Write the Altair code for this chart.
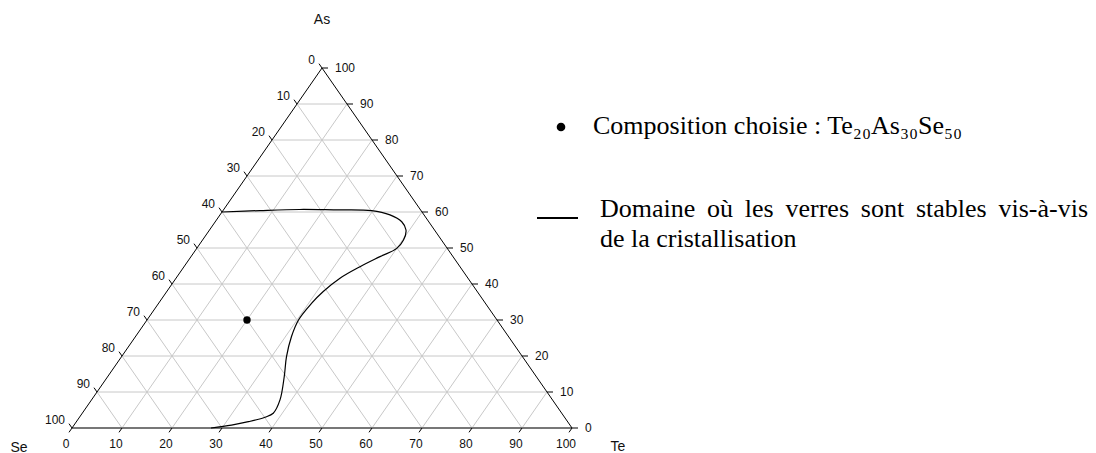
import altair as alt
import pandas as pd

# ---------------- data ----------------
grid_levels = [10, 20, 30, 40, 50, 60, 70, 80, 90]
tick_levels = [0, 10, 20, 30, 40, 50, 60, 70, 80, 90, 100]

# glass-stability domain boundary (Te %, As %)
curve_te = [0, 7.4, 15.2, 22.0, 29.7, 34.0, 37.3, 39.3, 40.2, 40.0, 37.8, 35.2,
            32.8, 31.3, 30.6, 30.3, 31.2, 33.0, 35.3, 37.7, 38.2, 37.1, 34.4, 31.5, 27.8]
curve_as = [60.0, 60.4, 60.7, 60.6, 60.4, 59.2, 57.3, 55.0, 52.2, 49.9, 47.6, 44.8,
            41.6, 37.9, 34.6, 30.0, 25.4, 19.8, 14.3, 7.8, 4.1, 3.0, 1.75, 0.8, 0.0]

chosen_te = [20]
chosen_as = [30]

vertex_names = ["As", "Se", "Te"]
legend_point_text = ["Composition choisie : Te\u2082\u2080As\u2083\u2080Se\u2085\u2080"]
legend_line_words = ["Domaine", "où", "les", "verres", "sont", "stables", "vis-à-vis"]
legend_line_text2 = ["de la cristallisation"]

TICK = 1.2
LEG_FONT = 26

# Times/Liberation Serif advance widths (em) for justified layout of legend line
_W = {"D": .722, "o": .5, "m": .778, "a": .444, "i": .278, "n": .5, "e": .444, "ù": .5,
      "l": .278, "s": .389, "v": .5, "r": .333, "t": .278, "b": .5, "-": .333, "à": .444}

# ---------------- tables ----------------
grid_rows = []
for k in grid_levels:
    grid_rows.append((0, k, 100 - k, k))          # constant As
    grid_rows.append((k, 0, k, 100 - k))          # constant Te
    grid_rows.append((100 - k, 0, 0, 100 - k))    # constant Se
grid_df = pd.DataFrame(grid_rows, columns=["te1", "ar1", "te2", "ar2"])

edge_lr = pd.DataFrame([(0, 0, 0, 100), (100, 0, 0, 100)], columns=["te1", "ar1", "te2", "ar2"])
edge_b = pd.DataFrame([(0, 0, 100, 0)], columns=["te1", "ar1", "te2", "ar2"])

tick_rows = []
for k in tick_levels:
    tick_rows.append((k, 0, k, -TICK))                              # bottom (Te)
    tick_rows.append((0, 100 - k, -TICK, 100 - k + TICK))           # left (Se)
    tick_rows.append((100 - k, k, 100 - k + TICK, k))               # right (As)
tick_df = pd.DataFrame(tick_rows, columns=["te1", "ar1", "te2", "ar2"])

bottom_lab = pd.DataFrame({"te": tick_levels, "ar": [0] * len(tick_levels), "lab": [str(k) for k in tick_levels]})
left_lab = pd.DataFrame({"te": [0] * len(tick_levels), "ar": [100 - k for k in tick_levels], "lab": [str(k) for k in tick_levels]})
right_lab = pd.DataFrame({"te": [100 - k for k in tick_levels], "ar": tick_levels, "lab": [str(k) for k in tick_levels]})

curve_df = pd.DataFrame({"i": list(range(len(curve_te))), "te": curve_te, "ar": curve_as})
point_df = pd.DataFrame({"te": chosen_te, "ar": chosen_as})

# ---------------- encodings ----------------
sx = alt.Scale(domain=[0, 100], nice=False, zero=False)
sy = alt.Scale(domain=[0, 100], nice=False, zero=False)


def segs(df, **mark):
    return alt.Chart(df).transform_calculate(
        x1="datum.te1 + datum.ar1 / 2", y1="datum.ar1",
        x2="datum.te2 + datum.ar2 / 2", y2="datum.ar2",
    ).mark_rule(**mark).encode(
        x=alt.X("x1:Q", scale=sx, axis=None),
        y=alt.Y("y1:Q", scale=sy, axis=None),
        x2="x2:Q", y2="y2:Q",
    )


def pts(df):
    return alt.Chart(df).transform_calculate(x="datum.te + datum.ar / 2", y="datum.ar")


def labels(df, **mark):
    return pts(df).mark_text(font="Liberation Sans", fontSize=12, color="#111", baseline="middle", **mark).encode(
        x=alt.X("x:Q", scale=sx, axis=None), y=alt.Y("y:Q", scale=sy, axis=None), text="lab:N")


grid = segs(grid_df, color="#c8c8c8", strokeWidth=1)
edges = segs(edge_lr, color="black", strokeWidth=1)
base_edge = segs(edge_b, color="#777777", strokeWidth=2)
ticks = segs(tick_df, color="black", strokeWidth=1)

lab_b = labels(bottom_lab, align="center", dx=-6, dy=16)
lab_l = labels(left_lab, align="right", dx=-7, dy=-8)
lab_r = labels(right_lab, align="left", dx=13, dy=0)

curve = pts(curve_df).mark_line(color="black", strokeWidth=1.2, interpolate="catmull-rom").encode(
    x=alt.X("x:Q", scale=sx, axis=None), y=alt.Y("y:Q", scale=sy, axis=None), order="i:Q")

point = pts(point_df).mark_point(filled=True, color="black", opacity=1, size=55).encode(
    x=alt.X("x:Q", scale=sx, axis=None), y=alt.Y("y:Q", scale=sy, axis=None))

vtx_te = [0, 0, 100]
vtx_as = [100, 0, 0]
vtx_off = [(0, -48), (-53, 20), (46, 19)]
vertex_layers = []
for name, te, ar, (ddx, ddy) in zip(vertex_names, vtx_te, vtx_as, vtx_off):
    vdf = pd.DataFrame({"te": [te], "ar": [ar], "lab": [name]})
    vertex_layers.append(
        pts(vdf).mark_text(font="Liberation Sans", fontSize=14, color="#111", align="center",
                           baseline="middle", dx=ddx, dy=ddy).encode(
            x=alt.X("x:Q", scale=sx, axis=None), y=alt.Y("y:Q", scale=sy, axis=None), text="lab:N"))

# ---------------- legend (drawn as text) ----------------
# positions relative to plot origin (page 72, 68)
LEG_X0 = 528        # left edge of legend text block
LEG_X1 = 1016       # right edge of justified first line

leg_pt = alt.Chart(pd.DataFrame({"t": ["pt"]})).mark_point(filled=True, color="black", opacity=1, size=75).encode(
    x=alt.value(489), y=alt.value(59))
leg_pt_txt = alt.Chart(pd.DataFrame({"t": legend_point_text})).mark_text(
    font="Liberation Serif", fontSize=LEG_FONT, align="left", baseline="alphabetic", color="black").encode(
    x=alt.value(521), y=alt.value(66), text="t:N")
leg_line = alt.Chart(pd.DataFrame({"t": ["ln"]})).mark_rule(color="black", strokeWidth=2).encode(
    x=alt.value(465), x2=alt.value(506), y=alt.value(150))

# justified first line: words spread between LEG_X0 and LEG_X1
word_w = [sum(_W.get(c, .5) for c in w) * LEG_FONT for w in legend_line_words]
gap = (LEG_X1 - LEG_X0 - sum(word_w)) / (len(legend_line_words) - 1)
word_x = []
cur = LEG_X0
for w in word_w:
    word_x.append(cur)
    cur += w + gap
words_df = pd.DataFrame({"w": legend_line_words, "px": word_x})
leg_line_txt1 = alt.Chart(words_df).mark_text(
    font="Liberation Serif", fontSize=LEG_FONT, align="left", baseline="alphabetic", color="black").encode(
    x=alt.X("px:Q", scale=None), y=alt.value(149), text="w:N")
leg_line_txt2 = alt.Chart(pd.DataFrame({"t": legend_line_text2})).mark_text(
    font="Liberation Serif", fontSize=LEG_FONT, align="left", baseline="alphabetic", color="black").encode(
    x=alt.value(LEG_X0), y=alt.value(179), text="t:N")

chart = alt.layer(
    grid, base_edge, edges, ticks, curve, point, lab_b, lab_l, lab_r, *vertex_layers,
    leg_pt, leg_pt_txt, leg_line, leg_line_txt1, leg_line_txt2,
).properties(
    width=500, height=360,
    padding={"left": 64, "top": 60, "right": 516, "bottom": 25},
    autosize=alt.AutoSizeParams(type="none"),
).configure_view(stroke=None)

chart.save("out.html", embed_options={"renderer": "svg", "actions": False})
